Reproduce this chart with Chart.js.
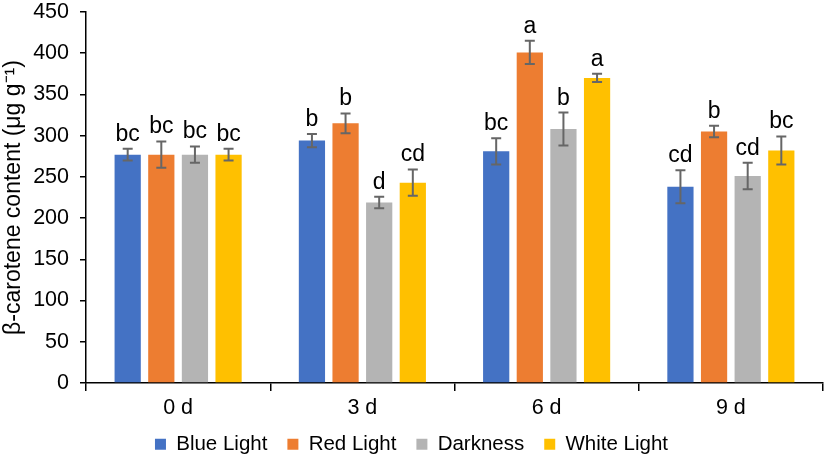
<!DOCTYPE html>
<html>
<head>
<meta charset="utf-8">
<script src="https://cdn.jsdelivr.net/npm/chart.js@4.4.1/dist/chart.umd.min.js"></script>
<style>
html,body{margin:0;padding:0;background:#fff;}
#wrap{width:829px;height:460px;}
</style>
</head>
<body>
<div id="wrap"><canvas id="caroteneChart" width="829" height="460"></canvas></div>
<script>
// beta-carotene by light treatment

const days = ["0 d", "3 d", "6 d", "9 d"];

const blueLight = [277, 294, 281, 238];
const redLight = [277, 315, 401, 305];
const darkness = [277, 219, 308, 251];
const whiteLight = [277, 243, 370, 282];

const blueErr = [7, 8, 16, 20];
const redErr = [16, 12, 14, 7];
const darkErr = [10, 7, 20, 16];
const whiteErr = [7, 16, 5, 17];

const blueLetters = ["bc", "b", "bc", "cd"];
const redLetters = ["bc", "b", "a", "b"];
const darkLetters = ["bc", "d", "b", "cd"];
const whiteLetters = ["bc", "cd", "a", "bc"];

const yTicks = [0, 50, 100, 150, 200, 250, 300, 350, 400, 450];

const errs = [blueErr, redErr, darkErr, whiteErr];
const letters = [blueLetters, redLetters, darkLetters, whiteLetters];

const FONT = "'Liberation Sans', Arial, sans-serif";

// error bars + letters
const errorBars = {
id: "errorBars",
afterDatasetsDraw(chart) {
const ctx = chart.ctx;
const y = chart.scales.y;
ctx.save();
chart.data.datasets.forEach((ds, i) => {
const meta = chart.getDatasetMeta(i);
meta.data.forEach((bar, j) => {
const v = ds.data[j];
const e = errs[i][j];
const top = y.getPixelForValue(v + e);
const bot = y.getPixelForValue(v - e);
ctx.strokeStyle = "#666";
ctx.lineWidth = 2;
ctx.beginPath();
ctx.moveTo(bar.x, top);
ctx.lineTo(bar.x, bot);
ctx.moveTo(bar.x - 5, top);
ctx.lineTo(bar.x + 5, top);
ctx.moveTo(bar.x - 5, bot);
ctx.lineTo(bar.x + 5, bot);
ctx.stroke();

ctx.fillStyle = "#000";
ctx.font = "23px " + FONT;
ctx.textAlign = "center";
ctx.textBaseline = "alphabetic";
ctx.fillText(letters[i][j], bar.x, top - 8);
});
});
ctx.restore();
}
};

// legend takes little room in the layout, then gets moved up to overlap the x axis box
const legendTweak = {
id: "legendTweak",
afterInit(chart) {
const lg = chart.legend;
const fit = lg.fit.bind(lg);
lg.fit = function() { fit(); this.height = 27; };
},
afterLayout(chart) {
const lg = chart.legend;
lg.top = 414;
lg.bottom = 460;
lg.height = 46;
}
};

new Chart(
document.getElementById("caroteneChart"),
{
type: "bar",

data: {
labels: days,

datasets: [
{label: "Blue Light", data: blueLight, backgroundColor: "#4472c4"},
{label: "Red Light", data: redLight, backgroundColor: "#ed7d31"},
{label: "Darkness", data: darkness, backgroundColor: "#b4b4b4"},
{label: "White Light", data: whiteLight, backgroundColor: "#ffc000"}
]
},

options: {
responsive: false,
animation: false,
categoryPercentage: 0.73,
barPercentage: 0.78,
layout: {padding: {top: 0, right: 6, left: 0, bottom: 0}},
plugins: {
tooltip: {enabled: false},
legend: {
position: "bottom",
labels: {
boxWidth: 11,
boxHeight: 11,
padding: 20,
color: "#000",
font: {family: FONT, size: 20.5}
}
}
},
scales: {
x: {
grid: {offset: true, drawOnChartArea: false, drawTicks: true, tickLength: 8, color: "#000", lineWidth: 1.5},
border: {color: "#000", width: 1.5},
ticks: {color: "#000", padding: 4, font: {family: FONT, size: 21.5}},
afterFit(s) { s.height = 50; }
},
y: {
min: 0,
max: 450,
afterBuildTicks(s) { s.ticks = yTicks.map(v => ({value: v})); },
grid: {drawOnChartArea: false, drawTicks: true, tickLength: 6, color: "#000", lineWidth: 1.5},
border: {color: "#000", width: 1.5},
ticks: {color: "#000", padding: 11, font: {family: FONT, size: 21.5}},
title: {
display: true,
text: "β-carotene content (μg g⁻¹)",
color: "#000",
padding: {top: 0, bottom: 4},
font: {family: FONT, size: 23}
},
afterFit(s) { s.width = 86; s.paddingTop = 12; }
}
}
},

plugins: [errorBars, legendTweak]
}
);
</script>
</body>
</html>
